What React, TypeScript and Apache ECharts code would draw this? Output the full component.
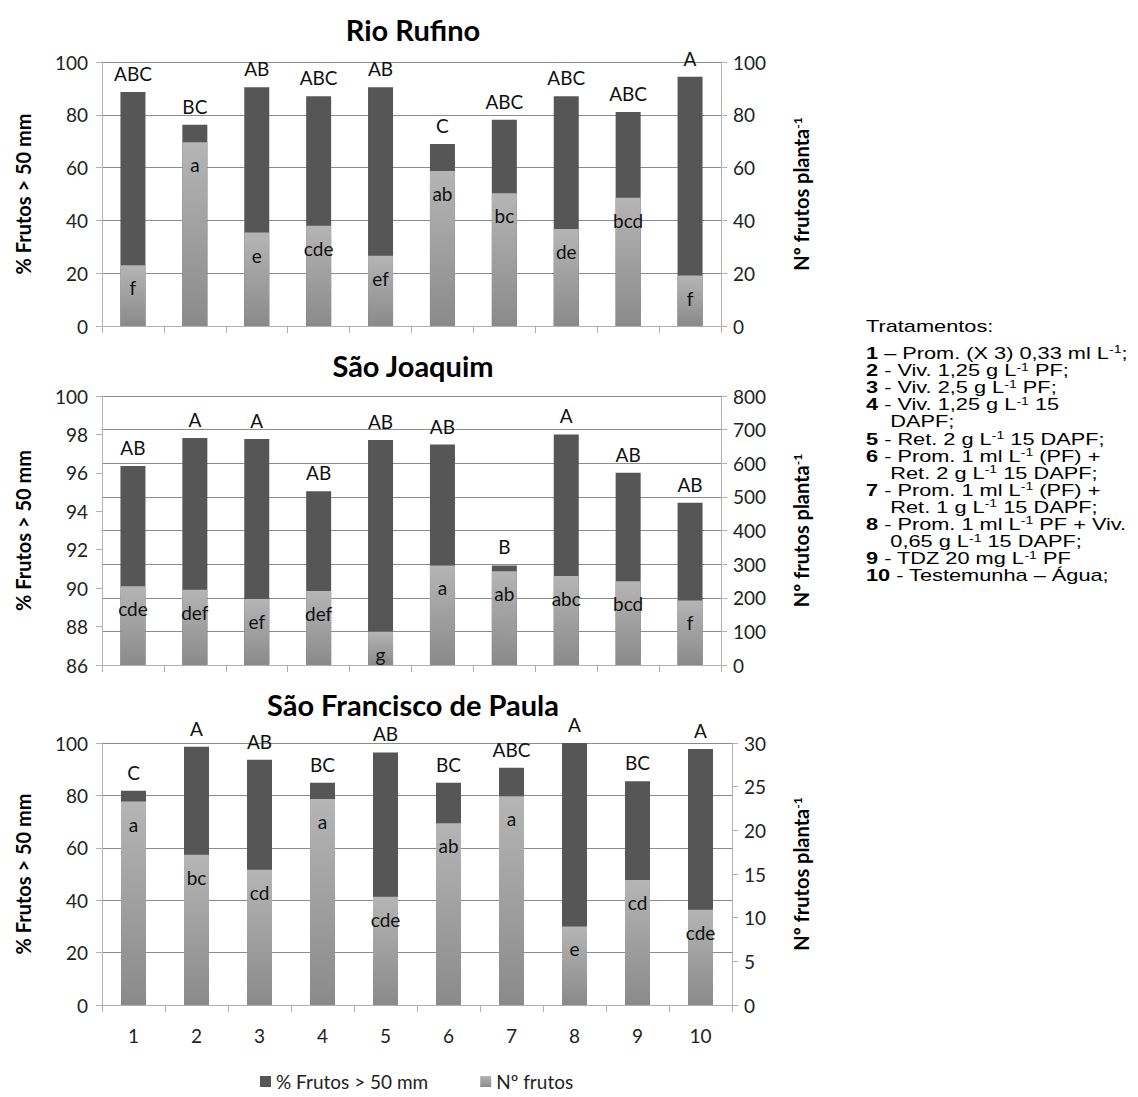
import React, { useEffect, useRef } from "react";
import * as echarts from "echarts";

const categories = ["1", "2", "3", "4", "5", "6", "7", "8", "9", "10"];

// Rio Rufino
const rrPct = [88.6, 76.2, 90.4, 87.0, 90.4, 68.9, 78.1, 87.0, 81.1, 94.4];
const rrNum = [23.0, 69.6, 35.4, 38.0, 26.6, 58.7, 50.3, 36.7, 48.6, 19.1];
const rrUpper = ["ABC", "BC", "AB", "ABC", "AB", "C", "ABC", "ABC", "ABC", "A"];
const rrLower = ["f", "a", "e", "cde", "ef", "ab", "bc", "de", "bcd", "f"];

// São Joaquim
const sjPct = [96.36, 97.82, 97.76, 95.04, 97.71, 97.47, 91.18, 98.0, 96.01, 94.44];
const sjNum = [234, 224, 196, 220, 99, 296, 279, 265, 249, 192];
const sjUpper = ["AB", "A", "A", "AB", "AB", "AB", "B", "A", "AB", "AB"];
const sjLower = ["cde", "def", "ef", "def", "g", "a", "ab", "abc", "bcd", "f"];

// São Francisco de Paula
const sfPct = [81.8, 98.6, 93.6, 84.8, 96.4, 84.8, 90.6, 100, 85.4, 97.7];
const sfNum = [23.3, 17.2, 15.5, 23.6, 12.4, 20.8, 23.9, 9.0, 14.3, 10.9];
const sfUpper = ["C", "A", "AB", "BC", "AB", "BC", "ABC", "A", "BC", "A"];
const sfLower = ["a", "bc", "cd", "a", "cde", "ab", "a", "e", "cd", "cde"];

const panelTitles = ["Rio Rufino", "São Joaquim", "São Francisco de Paula"];
const leftAxes = [
  { min: 0, max: 100, interval: 20 },
  { min: 86, max: 100, interval: 2 },
  { min: 0, max: 100, interval: 20 },
];
const rightAxes = [
  { min: 0, max: 100, interval: 20 },
  { min: 0, max: 800, interval: 100 },
  { min: 0, max: 30, interval: 5 },
];

const seriesPctName = "% Frutos > 50 mm";
const seriesNumName = "Nº frutos";
const leftAxisName = "% Frutos > 50 mm";
const rightAxisName = "Nº frutos planta{sup|-1}";

const treatmentsHeader = "Tratamentos:";
// [bold number, rest with {sup|-1} markers]; empty number = continuation line
const treatmentLines: [string, string][] = [
  ["1", " – Prom. (X 3) 0,33 ml L{sup|-1};"],
  ["2", " - Viv. 1,25 g L{sup|-1} PF;"],
  ["3", " - Viv. 2,5 g L{sup|-1} PF;"],
  ["4", " - Viv. 1,25 g L{sup|-1} 15"],
  ["", "DAPF;"],
  ["5", " - Ret. 2 g L{sup|-1} 15 DAPF;"],
  ["6", " - Prom. 1 ml L{sup|-1} (PF) +"],
  ["", "Ret. 2 g L{sup|-1} 15 DAPF;"],
  ["7", " - Prom. 1 ml L{sup|-1} (PF) +"],
  ["", "Ret. 1 g L{sup|-1} 15 DAPF;"],
  ["8", " - Prom. 1 ml L{sup|-1} PF + Viv."],
  ["", "0,65 g L{sup|-1} 15 DAPF;"],
  ["9", " - TDZ 20 mg L{sup|-1} PF"],
  ["10", " - Testemunha – Água;"],
];

const panels = [
  { pct: rrPct, num: rrNum, upper: rrUpper, lower: rrLower },
  { pct: sjPct, num: sjNum, upper: sjUpper, lower: sjLower },
  { pct: sfPct, num: sfNum, upper: sfUpper, lower: sfLower },
];

const FONT = "Lato";
const DARK = "#565656";
const GRID_COLOR = "#8c8c8c";
const AXIS_COLOR = "#b0b0b0";

export default function App() {
  const ref = useRef<HTMLDivElement>(null);

  useEffect(() => {
    if (!ref.current) return;
    const chart = echarts.init(ref.current, undefined, { renderer: "svg" });

    const W = 1138;
    const gridBoxes = [
      { left: 102, right: W - 721, top: 62, height: 264 },
      { left: 102, right: W - 721, top: 396, height: 269 },
      { left: 102, right: W - 732, top: 743, height: 262 },
    ];
    const titleY = [29, 365, 704];
    const rightNameGap = [70, 70, 59];

    const lightGradient = () =>
      new echarts.graphic.LinearGradient(0, 0, 0, 1, [
        { offset: 0, color: "#b5b5b5" },
        { offset: 1, color: "#8a8a8a" },
      ]);

    const grid = gridBoxes.map((g) => ({ ...g }));
    const xAxis = gridBoxes.map((_, i) => ({
      type: "category",
      gridIndex: i,
      data: categories,
      axisLine: { show: true, lineStyle: { color: AXIS_COLOR } },
      axisTick: { show: true, length: 7, lineStyle: { color: AXIS_COLOR } },
      axisLabel: {
        show: i === 2,
        fontFamily: FONT,
        fontSize: 19,
        color: "#222",
        margin: 21,
      },
      splitLine: { show: false },
    }));

    const nameStyle = {
      fontFamily: FONT,
      fontWeight: "bold",
      fontSize: 20,
      color: "#000",
    };

    const yAxis: any[] = [];
    gridBoxes.forEach((_, i) => {
      yAxis.push({
        type: "value",
        gridIndex: i,
        position: "left",
        min: leftAxes[i].min,
        max: leftAxes[i].max,
        interval: leftAxes[i].interval,
        name: leftAxisName,
        nameLocation: "middle",
        nameGap: 69,
        nameTextStyle: nameStyle,
        axisLine: { show: true, lineStyle: { color: AXIS_COLOR } },
        axisTick: { show: true, length: 6, lineStyle: { color: AXIS_COLOR } },
        axisLabel: { fontFamily: FONT, fontSize: 19, color: "#222", margin: 14 },
        splitLine: { show: i !== 1, lineStyle: { color: GRID_COLOR } },
      });
      yAxis.push({
        type: "value",
        gridIndex: i,
        position: "right",
        min: rightAxes[i].min,
        max: rightAxes[i].max,
        interval: rightAxes[i].interval,
        name: rightAxisName,
        nameLocation: "middle",
        nameGap: rightNameGap[i],
        nameTextStyle: {
          ...nameStyle,
          rich: {
            sup: { fontFamily: FONT, fontWeight: "bold", fontSize: 12, verticalAlign: "top", color: "#000" },
          },
        },
        axisLine: { show: true, lineStyle: { color: AXIS_COLOR } },
        axisTick: { show: true, length: 6, lineStyle: { color: AXIS_COLOR } },
        axisLabel: { fontFamily: FONT, fontSize: 19, color: "#222", margin: 12 },
        splitLine: { show: i === 1, lineStyle: { color: GRID_COLOR } },
      });
    });

    const series: any[] = [];
    panels.forEach((p, i) => {
      series.push({
        name: seriesPctName,
        type: "bar",
        xAxisIndex: i,
        yAxisIndex: i * 2,
        data: p.pct,
        barWidth: 25,
        barGap: "-100%",
        itemStyle: { color: DARK },
        label: {
          show: true,
          position: "top",
          distance: 9,
          fontFamily: FONT,
          fontSize: 19,
          color: "#111",
          formatter: (d: any) => p.upper[d.dataIndex],
        },
        z: 2,
      });
      series.push({
        name: seriesNumName,
        type: "bar",
        xAxisIndex: i,
        yAxisIndex: i * 2 + 1,
        data: p.num,
        barWidth: 25,
        barGap: "-100%",
        itemStyle: { color: lightGradient() },
        label: {
          show: true,
          position: "insideTop",
          distance: 13,
          fontFamily: FONT,
          fontSize: 19,
          color: "#111",
          formatter: (d: any) => p.lower[d.dataIndex],
        },
        z: 3,
      });
    });

    const graphics: any[] = [];
    panelTitles.forEach((t, i) => {
      graphics.push({
        type: "text",
        x: 413,
        y: titleY[i],
        style: {
          text: t,
          fontFamily: FONT,
          fontWeight: "bold",
          fontSize: 29,
          fill: "#000",
          align: "center",
          verticalAlign: "middle",
        },
      });
    });

    const TF = "Liberation Sans";
    const TS = 17;
    const richStyles = {
      b: { fontFamily: TF, fontWeight: "bold", fontSize: TS, fill: "#000", lineHeight: 17 },
      n: { fontFamily: TF, fontSize: TS, fill: "#000", lineHeight: 17 },
      sup: { fontFamily: TF, fontSize: 11, fill: "#000", verticalAlign: "top", lineHeight: 17 },
    };
    const textChildren: any[] = [
      {
        type: "text",
        x: 0,
        y: 326,
        style: { text: treatmentsHeader, fontFamily: TF, fontSize: TS, fill: "#000", verticalAlign: "middle" },
      },
    ];
    treatmentLines.forEach(([num, rest], k) => {
      const cont = num === "";
      const body = rest
        .split(/(\{sup\|-1\})/)
        .map((s) => (s === "{sup|-1}" ? s : s ? `{n|${s}}` : ""))
        .join("");
      textChildren.push({
        type: "text",
        x: cont ? 19 : 0,
        y: 353 + k * 17.1,
        style: {
          text: (cont ? "" : `{b|${num}}`) + body,
          rich: richStyles,
          verticalAlign: "middle",
        },
      });
    });
    graphics.push({
      type: "group",
      x: 866,
      y: 0,
      scaleX: 1.28,
      scaleY: 1,
      children: textChildren,
    });

    chart.setOption({
      animation: false,
      backgroundColor: "#fff",
      grid,
      xAxis,
      yAxis,
      series,
      legend: {
        data: [seriesPctName, seriesNumName],
        left: 255,
        top: 1067,
        icon: "rect",
        itemWidth: 11,
        itemHeight: 11,
        itemGap: 52,
        textStyle: { fontFamily: FONT, fontSize: 19, color: "#222" },
        selectedMode: false,
      },
      graphic: graphics,
    });

    return () => chart.dispose();
  }, []);

  return (
    <div
      ref={ref}
      style={{ position: "fixed", left: 0, top: 0, width: 1138, height: 1097 }}
    />
  );
}
